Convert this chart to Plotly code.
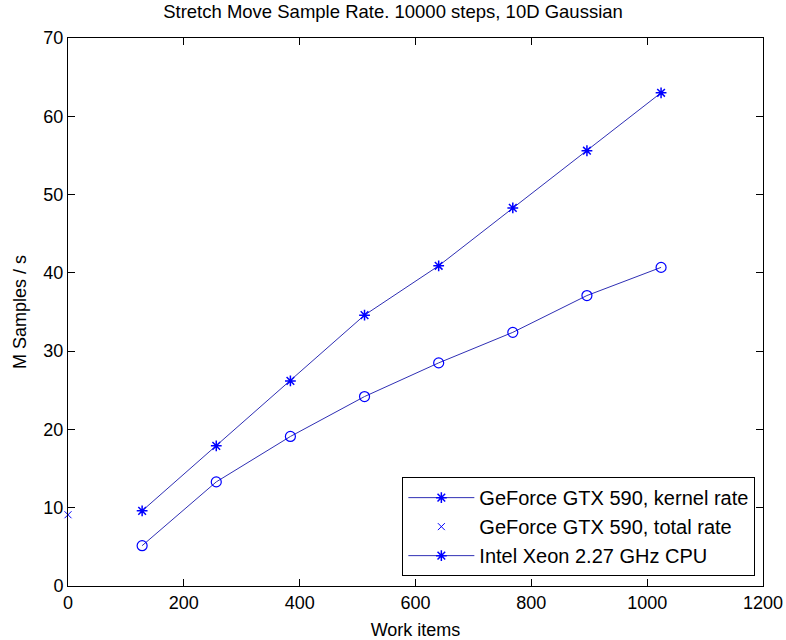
import plotly.graph_objects as go

# Data
work_items = [128, 256, 384, 512, 640, 768, 896, 1024]
kernel_rate = [9.6, 17.9, 26.2, 34.6, 40.9, 48.3, 55.6, 63.0]
cpu_like_rate = [5.15, 13.3, 19.1, 24.2, 28.5, 32.4, 37.1, 40.7]
total_rate_x = [0]
total_rate_y = [9.1]

x_ticks = [0, 200, 400, 600, 800, 1000, 1200]
y_ticks = [0, 10, 20, 30, 40, 50, 60, 70]

LINE_COLOR = "#2f2fb4"
MARK_COLOR = "#0000ff"
FONT = "Liberation Sans, Arial, Helvetica, sans-serif"

fig = go.Figure()

fig.add_trace(go.Scatter(
    x=work_items, y=kernel_rate, mode="lines+markers",
    name="GeForce GTX 590, kernel rate", legendgroup="a",
    line=dict(color=LINE_COLOR, width=1),
    marker=dict(symbol="asterisk-open", size=9, color=MARK_COLOR,
                line=dict(color=MARK_COLOR, width=1.5)),
    cliponaxis=False,
))
fig.add_trace(go.Scatter(
    x=total_rate_x, y=total_rate_y, mode="markers",
    name="GeForce GTX 590, total rate", legendgroup="b",
    marker=dict(symbol="x-thin-open", size=7, color=MARK_COLOR,
                line=dict(color=MARK_COLOR, width=1)),
    cliponaxis=False,
))
fig.add_trace(go.Scatter(
    x=work_items, y=cpu_like_rate, mode="lines+markers",
    name="series", showlegend=False, legendgroup="d",
    line=dict(color=LINE_COLOR, width=1),
    marker=dict(symbol="circle-open", size=10, color=MARK_COLOR,
                line=dict(color=MARK_COLOR, width=1.2)),
    cliponaxis=False,
))
# legend entry as shown in the reference
fig.add_trace(go.Scatter(
    x=[None], y=[None], mode="lines+markers",
    name="Intel Xeon 2.27 GHz CPU", legendgroup="c",
    line=dict(color=LINE_COLOR, width=1),
    marker=dict(symbol="asterisk-open", size=9, color=MARK_COLOR,
                line=dict(color=MARK_COLOR, width=1.5)),
))

axis_common = dict(
    showline=True, linecolor="black", linewidth=1, mirror="ticks",
    ticks="inside", ticklen=7, tickwidth=1, tickcolor="black",
    showgrid=False, zeroline=False, automargin=False,
    tickfont=dict(family=FONT, size=18, color="black"),
)

fig.update_layout(
    width=786, height=640,
    margin=dict(l=68, r=23, t=38, b=54),
    paper_bgcolor="white", plot_bgcolor="white",
    font=dict(family=FONT, size=18, color="black"),
    title=dict(text="Stretch Move Sample Rate. 10000 steps, 10D Gaussian",
               x=0.5, xref="container", xanchor="center",
               yref="container", y=1 - 12 / 640, yanchor="middle",
               font=dict(family=FONT, size=18.5, color="black")),
    xaxis=dict(range=[0, 1200], tickvals=x_ticks,
               title=dict(text="Work items", standoff=11,
                          font=dict(family=FONT, size=18, color="black")),
               **axis_common),
    yaxis=dict(range=[0, 70], tickvals=y_ticks,
               title=dict(text="M Samples / s", standoff=12,
                          font=dict(family=FONT, size=18, color="black")),
               **axis_common),
    legend=dict(x=0.989, xanchor="right", y=0.018, yanchor="bottom",
                bgcolor="white", bordercolor="black", borderwidth=1,
                itemwidth=66, font=dict(family=FONT, size=20, color="black"),
                tracegroupgap=0),
    showlegend=True,
    hovermode=False,
)

fig.write_html("out.html",
               config={"displayModeBar": False},
               post_script="document.body.style.margin='0';"
                           "document.body.style.overflow='hidden';")
